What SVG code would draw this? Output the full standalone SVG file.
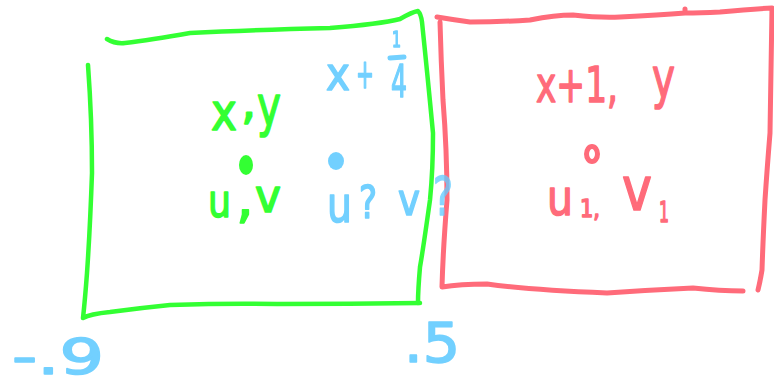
<svg xmlns="http://www.w3.org/2000/svg" width="774" height="386" viewBox="0 0 774 386">
<style>
.ln{fill:none;stroke-linecap:round;stroke-linejoin:round}
.g{stroke:#33ff33;stroke-width:4.5}
.r{stroke:#ff6b7a;stroke-width:5}
.b{stroke:#66ccff;stroke-width:5}
text{font-family:"DejaVu Sans","Liberation Sans",sans-serif;stroke-width:1.6;stroke-linejoin:round}
.tg{fill:#33ff33;stroke:#33ff33}
.tr{fill:#ff6b7a;stroke:#ff6b7a}
.tb{fill:#66ccff;stroke:#66ccff}
</style>
<rect width="774" height="386" fill="#fff"/>
<g id="green-cell">
<path class="ln g" d="M107,39 Q115,44 125,43 Q150,40 190,33 Q250,30 330,28 Q380,24 400,19 Q412,12 418,11 Q421,14 422,22 Q428,80 433,133 Q433,170 430,200 Q423,250 420,267 Q418,290 418,303"/>
<path class="ln g" d="M88,65 Q92,120 92,173 Q90,230 87,273 Q85,300 83,318 Q90,314 110,312 Q140,308 170,305 Q230,303 277,304 Q350,304 420,303"/>
<text class="tg" x="211" y="130" font-size="52" textLength="26" lengthAdjust="spacingAndGlyphs">x</text>
<text class="tg" x="241" y="118" font-size="48">,</text>
<text class="tg" x="257" y="125" font-size="56" textLength="24" lengthAdjust="spacingAndGlyphs">y</text>
<ellipse cx="246" cy="165" rx="7" ry="10" fill="#33ff33"/>
<text class="tg" x="208" y="217" font-size="46" textLength="23" lengthAdjust="spacingAndGlyphs">u</text>
<text class="tg" x="236" y="217" font-size="56">,</text>
<text class="tg" x="255" y="212" font-size="46" textLength="26" lengthAdjust="spacingAndGlyphs">v</text>
</g>
<g id="red-cell">
<path class="ln r" d="M437,17 Q455,20 470,22 Q500,22 530,20 Q555,15 573,15 Q600,18 620,17 Q660,15 685,13 L685,9 M685,13 Q700,13 720,12 Q750,9 772,8 Q771,70 770,133 Q767,170 765,200 Q763,240 762,270 Q760,282 758,290"/>
<path class="ln r" d="M440,22 Q441,60 443,100 Q447,150 447,200 Q443,250 442,287 Q460,284 487,284 Q530,290 607,293 Q650,290 693,288 Q720,291 743,291"/>
<text class="tr" font-size="50" y="102" x="536" textLength="82" lengthAdjust="spacingAndGlyphs">x+1,</text>
<text class="tr" x="652" y="97" font-size="56" textLength="23" lengthAdjust="spacingAndGlyphs">y</text>
<ellipse cx="592" cy="154" rx="5.5" ry="7.5" fill="#fff" stroke="#ff6b7a" stroke-width="5"/>
<text class="tr" x="547" y="215" font-size="50" textLength="26" lengthAdjust="spacingAndGlyphs">u</text>
<text class="tr" x="580" y="217" font-size="24" textLength="20" lengthAdjust="spacingAndGlyphs">1,</text>
<text class="tr" x="622" y="210" font-size="60" textLength="30" lengthAdjust="spacingAndGlyphs">v</text>
<text class="tr" x="659" y="222" font-size="28" textLength="10" lengthAdjust="spacingAndGlyphs">1</text>
</g>
<g id="blue-labels" opacity="0.92">
<text class="tb" x="326" y="90" font-size="46" textLength="24" lengthAdjust="spacingAndGlyphs">x</text>
<text class="tb" x="356" y="88" font-size="40" textLength="18" lengthAdjust="spacingAndGlyphs">+</text>
<text class="tb" x="392" y="47" font-size="22" textLength="9" lengthAdjust="spacingAndGlyphs">1</text>
<path class="ln b" d="M390,58 L404,57"/>
<text class="tb" x="391" y="97" font-size="44" textLength="16" lengthAdjust="spacingAndGlyphs">4</text>
<ellipse cx="336" cy="161" rx="8" ry="9" fill="#66ccff"/>
<text class="tb" x="327" y="222" font-size="50" textLength="25" lengthAdjust="spacingAndGlyphs">u</text>
<text class="tb" x="359" y="218" font-size="44" textLength="18" lengthAdjust="spacingAndGlyphs">?</text>
<text class="tb" x="398" y="215" font-size="44" textLength="22" lengthAdjust="spacingAndGlyphs">v</text>
<text class="tb" x="433" y="215" font-size="54" textLength="20" lengthAdjust="spacingAndGlyphs" opacity="0.85">?</text>
<text class="tb" x="12" y="374" font-size="50" textLength="92" lengthAdjust="spacingAndGlyphs">-.9</text>
<text class="tb" x="404" y="362" font-size="56" textLength="56" lengthAdjust="spacingAndGlyphs">.5</text>
</g>
</svg>
